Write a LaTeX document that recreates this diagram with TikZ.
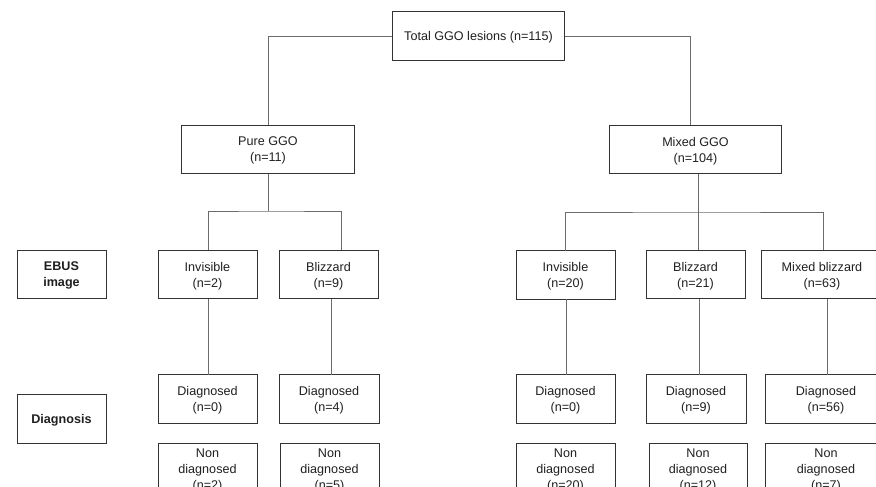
\documentclass[tikz,border=0pt]{standalone}
\usepackage{fontspec}
\setmainfont{Liberation Sans}
\begin{document}
\begin{tikzpicture}[x=1pt,y=-1pt,
  box/.style={draw=black!80, line width=1pt, inner sep=0pt, outer sep=0pt, align=center,
    text=black!88, font=\fontsize{12.6}{16}\selectfont, minimum height=48.5pt, text depth=-1.5pt},
  wide/.style={box, minimum width=172.5pt},
  small/.style={box, minimum width=99pt},
  cut/.style={box, minimum width=122pt},
  label/.style={box, minimum width=89pt, font=\fontsize{12.6}{16}\selectfont\bfseries},
  nd/.style={minimum height=52pt},
  conn/.style={draw=black!58, line width=0.8pt}]
\useasboundingbox (0,0) rectangle (876,487);
\clip (0,0) rectangle (876,487);
% top levels
\node[wide] (total) at (478.5,36) {Total GGO lesions (n=115)};
\node[wide] (pure) at (268,149.5) {Pure GGO\\(n=11)};
\node[wide] (mixed) at (695.5,149.5) {Mixed GGO\\(n=104)};
% row labels
\node[label] (ebus) at (61.5,274.5) {EBUS\\image};
\node[label] (diagl) at (61.5,419) {Diagnosis};
% EBUS images
\node[small] (inv1) at (207.5,274.5) {Invisible\\(n=2)};
\node[small] (bliz1) at (328.5,274.5) {Blizzard\\(n=9)};
\node[small] (inv2) at (565.5,275) {Invisible\\(n=20)};
\node[small] (bliz2) at (695.5,274.5) {Blizzard\\(n=21)};
\node[cut] (mbliz) at (822,274.5) {Mixed blizzard\\(n=63)};
% diagnosed
\node[small] (dg1) at (207.5,399) {Diagnosed\\(n=0)};
\node[small, minimum width=100pt] (dg2) at (329,399) {Diagnosed\\(n=4)};
\node[small] (dg3) at (565.5,399) {Diagnosed\\(n=0)};
\node[small, minimum width=100pt] (dg4) at (696,399) {Diagnosed\\(n=9)};
\node[cut] (dg5) at (826,399) {Diagnosed\\(n=56)};
% non diagnosed
\node[small, nd] (nd1) at (207.5,469) {Non\\diagnosed\\(n=2)};
\node[small, nd] (nd2) at (329.5,469) {Non\\diagnosed\\(n=5)};
\node[small, nd] (nd3) at (565.5,469) {Non\\diagnosed\\(n=20)};
\node[small, nd, minimum width=98pt] (nd4) at (698,469) {Non\\diagnosed\\(n=12)};
\node[cut, nd] (nd5) at (826,469) {Non\\diagnosed\\(n=7)};
% connectors from total
\draw[conn] (total.west) -| (pure.north);
\draw[conn] (total.east) -| ([xshift=-5.5pt]mixed.north);
% pure branch
\coordinate (pj) at (268,211);
\draw[conn] (pure.south) -- (pj);
\draw[conn] ([xshift=1pt]inv1.north) |- (pj) -| ([xshift=12.5pt]bliz1.north);
\draw[conn] ([xshift=0.5pt]inv1.south) -- ([xshift=0.5pt]inv1.south |- dg1.north);
\draw[conn] ([xshift=2.5pt]bliz1.south) -- ([xshift=2.5pt]bliz1.south |- dg2.north);
% mixed branch
\coordinate (mj) at (698.5,212);
\draw[conn] ([xshift=3pt]mixed.south) -- (mj);
\draw[conn] (inv2.north) |- (mj) -| ([xshift=1pt]mbliz.north);
\draw[conn] (mj) -- (mj |- bliz2.north);
\draw[conn] ([xshift=0.5pt]inv2.south) -- ([xshift=0.5pt]inv2.south |- dg3.north);
\draw[conn] ([xshift=3.5pt]bliz2.south) -- ([xshift=3.5pt]bliz2.south |- dg4.north);
\draw[conn] ([xshift=5pt]mbliz.south) -- ([xshift=5pt]mbliz.south |- dg5.north);
\end{tikzpicture}
\end{document}
